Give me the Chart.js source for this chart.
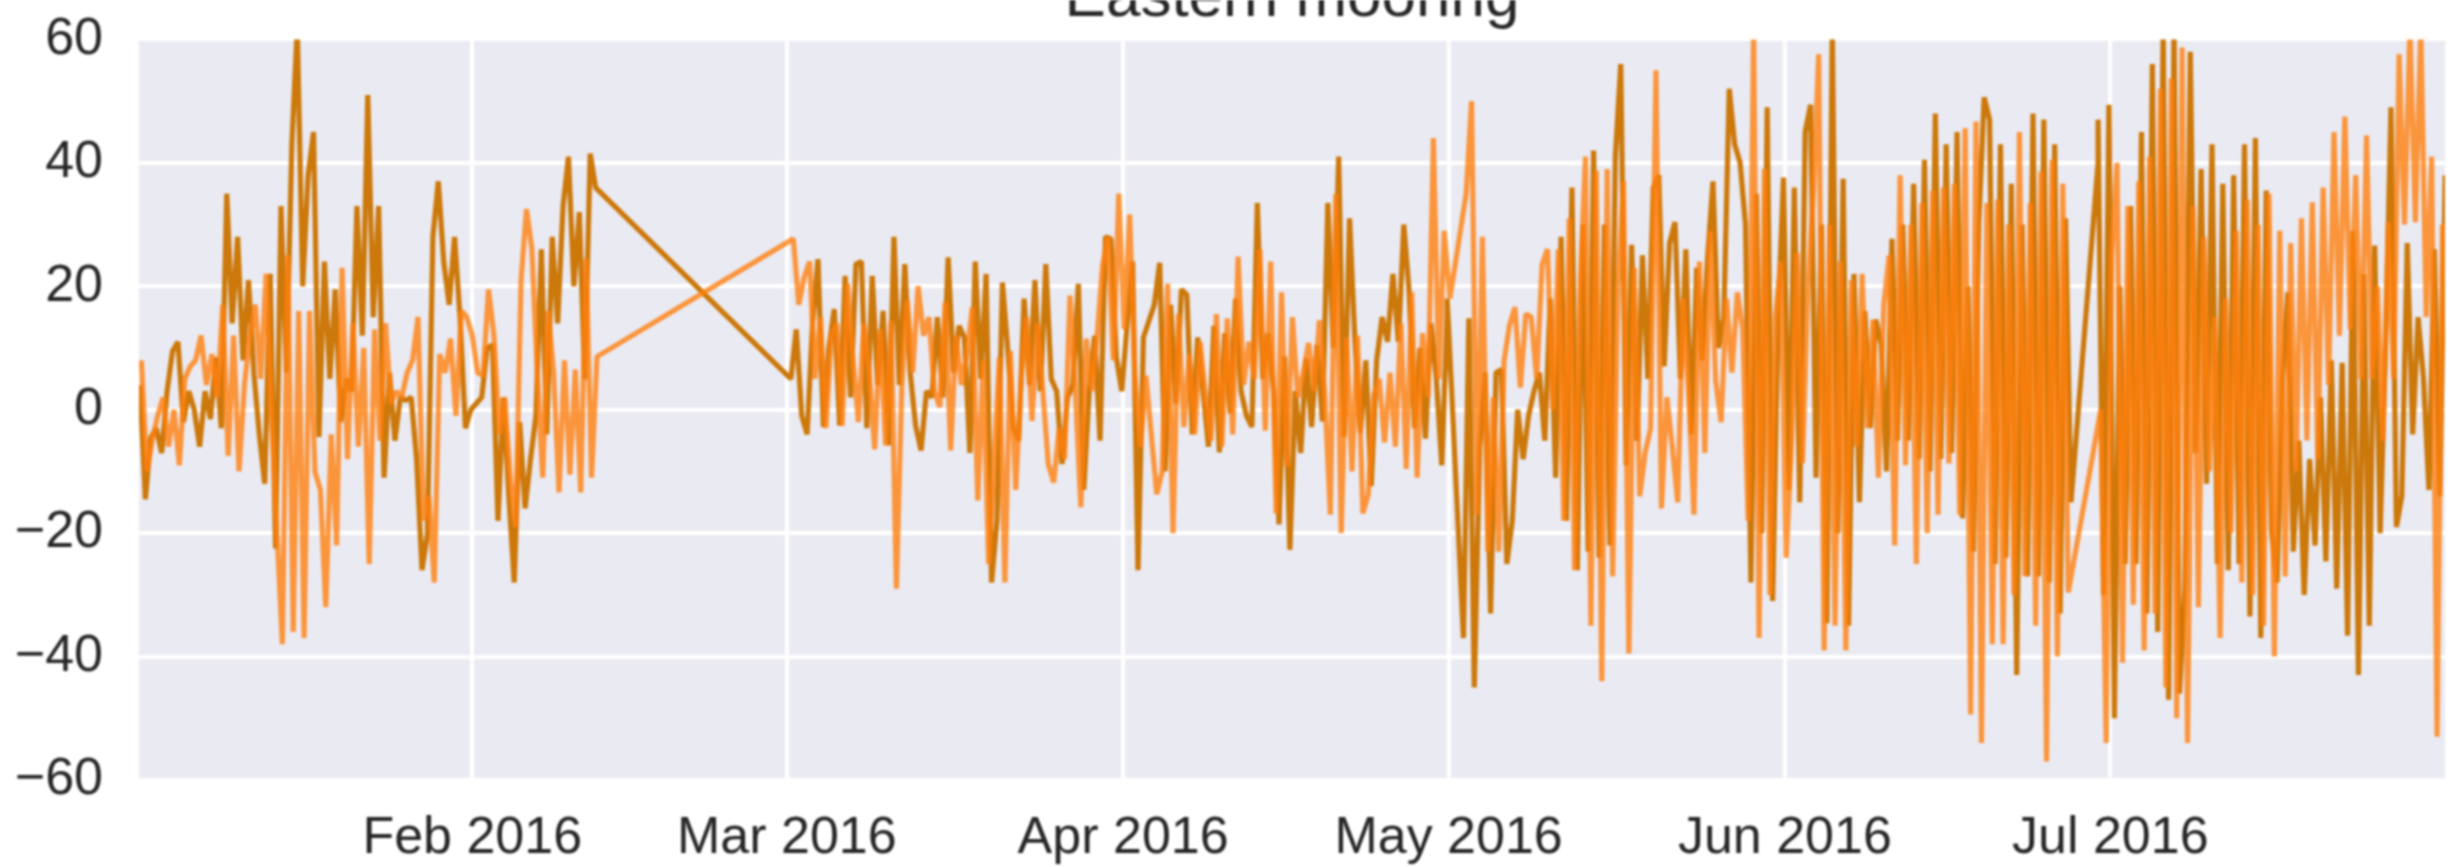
<!DOCTYPE html>
<html>
<head>
<meta charset="utf-8">
<title>Eastern mooring</title>
<script src="https://cdn.jsdelivr.net/npm/chart.js@4/dist/chart.umd.min.js"></script>
<style>
    body { margin: 0; background: #fff; overflow: hidden; }
    #myChart { display: block; filter: blur(0.8px); }
</style>
</head>
<body>
<canvas id="myChart" width="2450" height="867"></canvas>
<script>
const chartTitle = 'Eastern mooring';
const monthDays = [31, 60, 91, 121, 152, 182];
const monthLabels = ['Feb 2016', 'Mar 2016', 'Apr 2016', 'May 2016', 'Jun 2016', 'Jul 2016'];
const yTicks = [-60, -40, -20, 0, 20, 40, 60];

// readings every half day, null where the record has no reading
const darkStarts = [0.37, 60.37, 120.87, 180.87];
const lightStarts = [0.5, 60.6, 121.12, 181.12];

const darkJanFeb = [4,-14.5,-4.5,-3,-7,3,9.5,11,-2,3,0,-6,3,-1.5,8.5,-3,35,14,28,8,21,6,-4,-12,22,-22.5,33,6,43,62,20,38,45,-4.4,24,5,19.5,-2,5,3,33,12,51,15,33,-11,6,-5,2,1.5,2,-8,-26,-20,28,37,24,17,28,15,-3,0,1,2,10,10.5,-18,2,-14,-28,-2,-16,-8,-1,26,-4,28,14,33,41,20,32,5,41.5,36];
const darkMarApr = [5,13,-1,-4,14,24.4,-2.8,10,16.3,-2.6,21.7,2,23.6,24,-3,21.7,4,16,-5.8,28,4,23.6,6,-2.6,-6.6,3,2,15,2,24.7,6,13.6,11.7,-7,24,5,22,-28,-18,20.6,9.6,-3,-5,18,4,21,3,23.6,5,3,-8.8,2,4,20.4,-13,3,12,-5,28,27.7,8.5,3,14,24,-26,11.7,null,17,23.8,-10,17,1,19.5,18.6,-4,11.7,3,-6,13.6,-6.9,12.4,-0.6,18,3,-1,-2.8,33.5,5,12.4,3,-18.6,8.6,-22.7,3,-7,8.3,-2.8,10.5,-1.9,33.5,10,41,-4.4,31,11,-3.8,8,-12.4,8,15,11,22,11,30,19,-3,10,-4.7,14,5,-9,15.5];
const darkMayJun = [18,null,null,-37,14.8,-45,-6,6,-33,6,6.5,-25,-18,0,-8,-1,3,6,-5,18,-11,28,-18,36,-26,30,-23,42,-24,30,-22,41,56,-9,26.7,-5,25,5,36,38,7,27,30.4,5,26,-4,23,8,24.5,37,10,15,52,43,40,30,-28,35,-20,49,-31,15,37.6,-13,36,-15,45,49.4,-11,30,-34.6,62,-20,37.4,-35,22,-15,16,-3,14.6,10.7,-10,27.7,-5,30,-5,36.6,-8,40.5,-10,48,-8,43,-7,45,-17.6,20,-23,30,50.6,47,-25,43,-24,36.6,-43,30,-27,48,-27,47,-28,43,-33,31,-15,null,null,null,null,40];
const darkJul = [47,-30,49.4,-50,20,-25,33,-25,45,-33,56,-36,62,-47,62,-46,-29,58,-7,39,-12,43,-25,36.6,-26,38,-25,43,-33.5,44,-37,35.5,-20,-28,5,19,-23,-5,-30,-8,-22,2,-24.6,8,-29,7.6,-36.6,29,-43,22,-35,26.6,-20,10,49,-19,-14,27,-4,15,5,-13,26,-14,38];

const lightJanFeb = [8,-10,-5,-1,2,-6,0,-9,5,7,8,12,4,9,2,17,-7.5,12,-10,4,12,17,5,22,-1,-20,-38,25,-36,16,-37,16,-10,-13,-32,-4,-22,23,-8,14,-6,10,-25,13,-5,14,1,3,2,6,8,15,-18,-14,-28,9,6,11.5,-1,16,15,12,6,5.5,19.5,12,-4,2,-11,-19,21,32.5,26,5.7,-11,16,6,-13.4,8,-10.5,6.5,-13.4,24.5,-11,8.6];
const lightMarApr = [27.7,17,21.5,24,5,15,-3,12,14,-2.6,20.4,8,-2,14,6,-6.4,13,-5.8,14.4,-29,4,17.7,6,20,12,15,3,0.4,17.4,-6.6,12,4,9,16.6,-14.7,8,-25,-8,8.5,-28,9.5,-13,5,15,-1.8,14,3,-8.8,-11.8,-3,-8,18.5,3,-15.8,11.5,3,12,23.3,28,8,35,13,31.6,5,-6,5.5,null,-13.7,-10,20.4,-20,15.5,-2.8,9,-4,11,2,-5,15.5,-6,14.8,-4,24.8,4,11,5,26,-3.4,24,-16.8,19,-9.3,15,2,6,10.8,3,14.5,2,-17,35,-20,11.7,-10,12,-16.8,-13.7,2.4,5,-5.3,6,-6,14,-9.6,19,-11,12.4,2,44,5,29];
const lightMayJun = [18,null,null,35,50,-17,28,-23,2,-23,8,13.7,16.6,3.6,15.5,15,5,23.5,26,0,26,-18,31,-26,20,41,-35,38.7,-44,39,-27,20,37,-39.5,23,-14,-7,-3,55,-16,2,-6,-15,18,3,-17,24,-7,29,4.7,-2,18,6,19,13,-18,62,-37,39,-30,15,24,-24,-5,25.4,-8.7,19.6,35,57.6,-39,30,-35,24,-39,21,-6,22,-3,14.6,-11,17,25,-22,38,-9,30,-25,33.5,-20,35.5,-17,36,-8.7,36.6,-17,45.6,-49.4,46.7,-54,33.5,-38,34,-38,30,-30,45,-27,33.5,-35,38.6,-57,40.5,-40,36.6,-29.6,null,null,null,null,null];
const lightJul = [0,-54,25,40,-41,33,-31.6,37,-39,41,-33,52,-45,53.7,-50,58.7,-54,33,-32,28,-10,15,-37,18,-20,29,-28,34,-30,30,-35,35,-40,29,-27,27,-10,31,-5,33.6,-8,36,4,45,12,47.5,13,38,5,44.4,5,20,-5,30.4,5,57.6,30,62,30.4,62,15,41,-53,30];

const darkSegments = [darkJanFeb, darkMarApr, darkMayJun, darkJul];
const lightSegments = [lightJanFeb, lightMarApr, lightMayJun, lightJul];

function toPoints(segments, starts) {
    let points = [];
    segments.forEach((values, s) => {
        values.forEach((v, i) => points.push({ x: starts[s] + i * 0.5, y: v }));
    });
    return points;
}

const plotBackground = {
    id: 'plotBackground',
    beforeDraw(chart) {
        let a = chart.chartArea;
        chart.ctx.fillStyle = '#EAEAF2';
        chart.ctx.fillRect(a.left, a.top, a.width, a.height);
    }
};

Chart.defaults.font.family = '"Liberation Sans", Arial, sans-serif';
Chart.defaults.color = '#262626';

new Chart(document.getElementById('myChart'), {
    type: 'line',
    data: {
        datasets: [{
            data: toPoints(darkSegments, darkStarts),
            borderColor: '#CC780A',
            borderWidth: 5.2,
            order: 2
        }, {
            data: toPoints(lightSegments, lightStarts),
            borderColor: 'rgba(255, 127, 14, 0.8)',
            borderWidth: 5.2,
            order: 1
        }]
    },
    options: {
        responsive: false,
        animation: false,
        spanGaps: true,
        layout: { padding: { right: 5 } },
        elements: {
            point: { radius: 0 },
            line: { tension: 0, borderJoinStyle: 'bevel', borderCapStyle: 'butt' }
        },
        plugins: {
            legend: { display: false },
            tooltip: { enabled: false },
            title: {
                display: true,
                fullSize: false,
                text: chartTitle,
                color: '#262626',
                font: { size: 62, weight: 'normal' },
                padding: { top: -38, bottom: 3 }
            }
        },
        scales: {
            x: {
                type: 'linear',
                min: 0.28,
                max: 212.85,
                afterFit(scale) {
                    scale.height = 87;
                    scale.paddingLeft = 0;
                    scale.paddingRight = 0;
                },
                afterBuildTicks(scale) { scale.ticks = monthDays.map(d => ({ value: d })); },
                grid: { color: '#fff', lineWidth: 4, drawTicks: false },
                border: { display: false },
                ticks: {
                    autoSkip: false,
                    maxRotation: 0,
                    padding: 27,
                    font: { size: 52 },
                    callback: v => monthLabels[monthDays.indexOf(v)]
                }
            },
            y: {
                min: -60,
                max: 60,
                afterFit(scale) {
                    scale.width = 139;
                    scale.paddingTop = 0;
                    scale.paddingBottom = 0;
                },
                afterBuildTicks(scale) { scale.ticks = yTicks.map(v => ({ value: v })); },
                grid: { color: '#fff', lineWidth: 4, drawTicks: false },
                border: { display: false },
                ticks: {
                    padding: 36,
                    font: { size: 52 },
                    callback: v => String(v).replace('-', '\u2212')
                }
            }
        }
    },
    plugins: [plotBackground]
});
</script>
</body>
</html>
